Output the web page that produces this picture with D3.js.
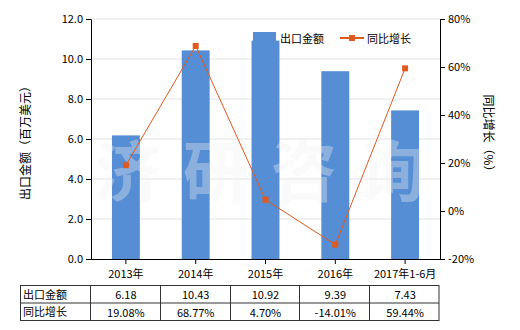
<!DOCTYPE html>
<html>
<head>
<meta charset="utf-8">
<script src="https://d3js.org/d3.v7.min.js"></script>
<style>
  body { margin: 0; background: #fff; }
  text { font-family: "Noto Sans CJK SC", "Noto Sans", sans-serif; }
</style>
</head>
<body>
<div id="chart"></div>
<script>
// chart data
var categories = ["2013年", "2014年", "2015年", "2016年", "2017年1-6月"];
var exportValues = [6.18, 10.43, 10.92, 9.39, 7.43];
var growthValues = [19.08, 68.77, 4.70, -14.01, 59.44];
var exportLabels = ["6.18", "10.43", "10.92", "9.39", "7.43"];
var growthLabels = ["19.08%", "68.77%", "4.70%", "-14.01%", "59.44%"];
var leftTicks = [0, 2, 4, 6, 8, 10, 12];
var rightTicks = [-20, 0, 20, 40, 60, 80];

var width = 520, height = 330;
var plot = { left: 91, right: 440, top: 19, bottom: 259 };
var barColor = "#558ed5", lineColor = "#e0591f";

var svg = d3.select("#chart").append("svg")
  .attr("width", width)
  .attr("height", height);

var x = d3.scaleBand().domain(categories).range([plot.left, plot.right]);
var yLeft = d3.scaleLinear().domain([0, 12]).range([plot.bottom, plot.top]);
var yRight = d3.scaleLinear().domain([-20, 80]).range([plot.bottom, plot.top]);

// gridlines
svg.append("g").selectAll("line")
  .data(leftTicks.slice(1))
  .enter().append("line")
  .attr("x1", plot.left).attr("x2", plot.right)
  .attr("y1", function(d) { return yLeft(d); })
  .attr("y2", function(d) { return yLeft(d); })
  .attr("stroke", "#e3e3e3")
  .attr("stroke-width", 1);

// bars
var barW = x.bandwidth() * 0.4;
svg.append("g").selectAll("rect")
  .data(exportValues)
  .enter().append("rect")
  .attr("x", function(d, i) { return x(categories[i]) + x.bandwidth() / 2 - barW / 2; })
  .attr("y", function(d) { return yLeft(d); })
  .attr("width", barW)
  .attr("height", function(d) { return plot.bottom - yLeft(d); })
  .attr("fill", barColor);

// watermark
svg.append("g").selectAll("text")
  .data(["济", "研", "咨", "询"])
  .enter().append("text")
  .attr("x", function(d, i) { return 128 + i * 88; })
  .attr("y", 196)
  .attr("text-anchor", "middle")
  .attr("font-size", 66)
  .attr("font-weight", "bold")
  .attr("fill", "#f2f2f2")
  .attr("fill-opacity", 0.35)
  .text(function(d) { return d; });

// line
var line = d3.line()
  .x(function(d, i) { return x(categories[i]) + x.bandwidth() / 2; })
  .y(function(d) { return yRight(d); });

svg.append("path")
  .datum(growthValues)
  .attr("d", line)
  .attr("fill", "none")
  .attr("stroke", lineColor)
  .attr("stroke-width", 1);

svg.append("g").selectAll("rect")
  .data(growthValues)
  .enter().append("rect")
  .attr("x", function(d, i) { return x(categories[i]) + x.bandwidth() / 2 - 3; })
  .attr("y", function(d) { return yRight(d) - 3; })
  .attr("width", 6)
  .attr("height", 6)
  .attr("fill", lineColor);

// axes
var leftAxis = svg.append("g")
  .attr("transform", "translate(" + plot.left + ",0)")
  .call(d3.axisLeft(yLeft).tickValues(leftTicks).tickSize(5).tickFormat(d3.format(".1f")));

var rightAxis = svg.append("g")
  .attr("transform", "translate(" + plot.right + ",0)")
  .call(d3.axisRight(yRight).tickValues(rightTicks).tickSize(5).tickFormat(function(d) { return d + "%"; }));

var bottomAxis = svg.append("g")
  .attr("transform", "translate(0," + plot.bottom + ")")
  .call(d3.axisBottom(x).tickSize(5).tickPadding(6));

[leftAxis, rightAxis, bottomAxis].forEach(function(a) {
  a.select(".domain").attr("stroke", "#000");
  a.selectAll(".tick line").attr("stroke", "#000");
  a.selectAll("text")
    .attr("font-size", 11)
    .attr("fill", "#000")
    .style("font-family", "\"Noto Sans CJK SC\", sans-serif");
});
bottomAxis.select(".domain").attr("d", "M" + plot.left + ",0.5H" + plot.right);

// axis titles
svg.append("text")
  .attr("transform", "translate(30,140) rotate(-90)")
  .attr("text-anchor", "middle")
  .attr("font-size", 12)
  .text("出口金额（百万美元）");

svg.append("text")
  .attr("transform", "translate(484,136) rotate(90)")
  .attr("text-anchor", "middle")
  .attr("font-size", 12)
  .text("同比增长（%）");

// legend
svg.append("rect")
  .attr("x", 253).attr("y", 32)
  .attr("width", 23).attr("height", 12)
  .attr("fill", barColor);
svg.append("text")
  .attr("x", 280).attr("y", 43)
  .attr("font-size", 11)
  .text("出口金额");
svg.append("line")
  .attr("x1", 340).attr("x2", 364)
  .attr("y1", 38).attr("y2", 38)
  .attr("stroke", lineColor)
  .attr("stroke-width", 2);
svg.append("rect")
  .attr("x", 349).attr("y", 35)
  .attr("width", 6).attr("height", 6)
  .attr("fill", lineColor);
svg.append("text")
  .attr("x", 367).attr("y", 43)
  .attr("font-size", 11)
  .text("同比增长");

// data table
var tableTop = 285.5, rowH = 17.5, tableLeft = 20.5;
var table = svg.append("g");
var rows = [
  { name: "出口金额", labels: exportLabels },
  { name: "同比增长", labels: growthLabels }
];

table.append("rect")
  .attr("x", tableLeft).attr("y", tableTop)
  .attr("width", plot.right - tableLeft - 1)
  .attr("height", rowH * 2)
  .attr("fill", "none")
  .attr("stroke", "#333");
table.append("line")
  .attr("x1", tableLeft).attr("x2", plot.right - 1)
  .attr("y1", tableTop + rowH).attr("y2", tableTop + rowH)
  .attr("stroke", "#333");
table.selectAll(".col")
  .data(categories)
  .enter().append("line")
  .attr("x1", function(d) { return Math.round(x(d)) - 0.5; })
  .attr("x2", function(d) { return Math.round(x(d)) - 0.5; })
  .attr("y1", tableTop).attr("y2", tableTop + rowH * 2)
  .attr("stroke", "#333");

rows.forEach(function(row, r) {
  table.append("text")
    .attr("x", 23)
    .attr("y", tableTop + rowH * r + 13)
    .attr("font-size", 11)
    .text(row.name);
  table.selectAll(".cell" + r)
    .data(row.labels)
    .enter().append("text")
    .attr("x", function(d, i) { return x(categories[i]) + x.bandwidth() / 2; })
    .attr("y", tableTop + rowH * r + 13.5)
    .attr("text-anchor", "middle")
    .attr("font-size", 11)
    .text(function(d) { return d; });
});
</script>
</body>
</html>
